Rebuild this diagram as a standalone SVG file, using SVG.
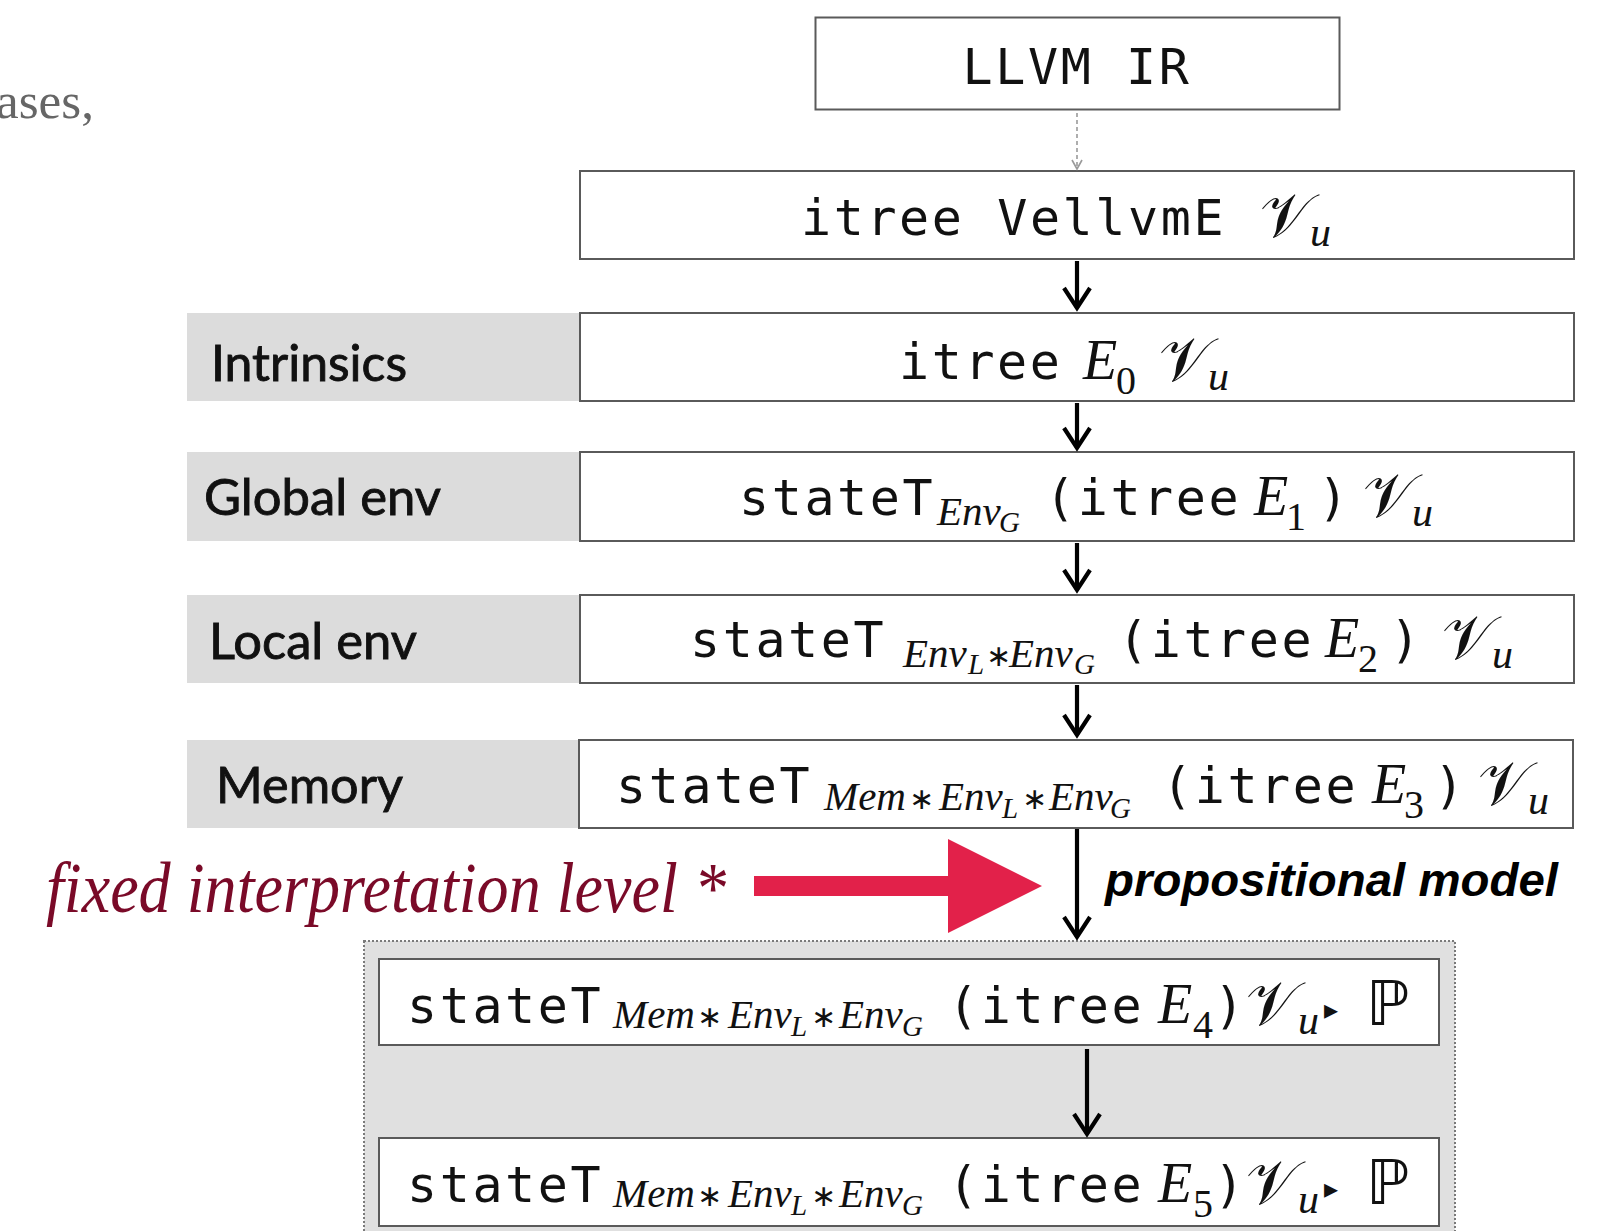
<svg xmlns="http://www.w3.org/2000/svg" width="1615" height="1231" viewBox="0 0 1615 1231">
  <style>
    .box { fill: #ffffff; stroke: #5a5a5a; stroke-width: 2; }
    .band { fill: #dcdcdc; }
    .mono { font-family: "DejaVu Sans Mono", "Liberation Mono", monospace; font-size: 50px; letter-spacing: 2.6px; fill: #111; }
    .lab { font-family: Lato, "Open Sans", sans-serif; font-size: 51px; fill: #111; stroke: #111; stroke-width: 0.9px; }
    .mi { font-family: "Liberation Serif", serif; font-style: italic; font-size: 56px; fill: #111; }
    .sub { font-family: "Liberation Serif", serif; font-style: italic; font-size: 41px; fill: #111; }
    .sub2 { font-family: "Liberation Serif", serif; font-style: italic; font-size: 29px; fill: #111; }
    .num { font-family: "Liberation Serif", serif; font-size: 40px; fill: #111; }
    .op { font-family: "DejaVu Sans", sans-serif; font-size: 30px; fill: #111; }
    .cal { font-family: "DejaVu Serif", "DejaVu Sans", "Noto Sans", serif; font-size: 62px; fill: #111; }
    .u { font-family: "Liberation Serif", serif; font-style: italic; font-size: 42px; fill: #111; }
    .bb { font-family: "DejaVu Sans", sans-serif; font-size: 62px; fill: #111; }
    .tri { font-family: "DejaVu Sans", sans-serif; font-size: 28px; fill: #111; }
    .arr { stroke: #000; stroke-width: 4.2; fill: none; }
  </style>

  <!-- margin text -->
  <text x="-4" y="118" font-family="Liberation Serif, serif" font-size="50" fill="#666" textLength="98" lengthAdjust="spacingAndGlyphs">ases,</text>

  <!-- lowering stages -->
  <g id="llvm-ir">
    <rect class="box" x="815.5" y="17.5" width="524" height="92"/>
    <text class="mono" x="1077" y="84" text-anchor="middle" font-size="52">LLVM IR</text>
  </g>

  <g id="vellvm">
    <rect class="box" x="580" y="171" width="994" height="88"/>
    <text><tspan class="mono" x="801" y="235">itree VellvmE</tspan><tspan class="cal" x="1260" y="237">𝒱</tspan><tspan class="u" x="1310" y="246">u</tspan></text>
  </g>

  <g id="intrinsics">
    <rect class="band" x="187" y="313" width="393" height="88"/>
    <rect class="box" x="580" y="313" width="994" height="88"/>
    <text class="lab" x="211" y="381" textLength="196" lengthAdjust="spacingAndGlyphs">Intrinsics</text>
    <text><tspan class="mono" x="899" y="379">itree</tspan><tspan class="mi" x="1083" y="379">E</tspan><tspan class="num" x="1116" y="394">0</tspan><tspan class="cal" x="1159" y="381">𝒱</tspan><tspan class="u" x="1208" y="390">u</tspan></text>
  </g>

  <g id="global-env">
    <rect class="band" x="187" y="452" width="393" height="89"/>
    <rect class="box" x="580" y="452" width="994" height="89"/>
    <text class="lab" x="204" y="515" textLength="237" lengthAdjust="spacingAndGlyphs">Global env</text>
    <text><tspan class="mono" x="739" y="515">stateT</tspan><tspan class="sub" x="937" y="525">Env</tspan><tspan class="sub2" x="999" y="532">G</tspan><tspan class="mono" x="1045" y="515">(itree</tspan><tspan class="mi" x="1254" y="515">E</tspan><tspan class="num" x="1286" y="530">1</tspan><tspan class="mono" x="1318" y="515">)</tspan><tspan class="cal" x="1363" y="517">𝒱</tspan><tspan class="u" x="1412" y="526">u</tspan></text>
  </g>

  <g id="local-env">
    <rect class="band" x="187" y="595" width="393" height="88"/>
    <rect class="box" x="580" y="595" width="994" height="88"/>
    <text class="lab" x="209" y="659" textLength="208" lengthAdjust="spacingAndGlyphs">Local env</text>
    <text><tspan class="mono" x="690" y="657">stateT</tspan><tspan class="sub" x="903" y="667">Env</tspan><tspan class="sub2" x="968" y="674">L</tspan><tspan class="op" x="986" y="666">∗</tspan><tspan class="sub" x="1009" y="667">Env</tspan><tspan class="sub2" x="1074" y="674">G</tspan><tspan class="mono" x="1118" y="657">(itree</tspan><tspan class="mi" x="1325" y="657">E</tspan><tspan class="num" x="1358" y="672">2</tspan><tspan class="mono" x="1390" y="657">)</tspan><tspan class="cal" x="1442" y="659">𝒱</tspan><tspan class="u" x="1492" y="668">u</tspan></text>
  </g>

  <g id="memory">
    <rect class="band" x="187" y="740" width="393" height="88"/>
    <rect class="box" x="579" y="740" width="994" height="88"/>
    <text class="lab" x="216" y="803" textLength="187" lengthAdjust="spacingAndGlyphs">Memory</text>
    <text><tspan class="mono" x="616" y="803">stateT</tspan><tspan class="sub" x="824" y="810">Mem</tspan><tspan class="op" x="909" y="809">∗</tspan><tspan class="sub" x="939" y="810">Env</tspan><tspan class="sub2" x="1002" y="818">L</tspan><tspan class="op" x="1022" y="809">∗</tspan><tspan class="sub" x="1049" y="810">Env</tspan><tspan class="sub2" x="1110" y="818">G</tspan><tspan class="mono" x="1162" y="803">(itree</tspan><tspan class="mi" x="1372" y="803">E</tspan><tspan class="num" x="1404" y="818">3</tspan><tspan class="mono" x="1434" y="803">)</tspan><tspan class="cal" x="1478" y="805">𝒱</tspan><tspan class="u" x="1528" y="814">u</tspan></text>
  </g>

  <!-- fixed interpretation annotation -->
  <g id="fixed-level">
    <text x="46" y="912" font-family="Liberation Serif, serif" font-style="italic" font-size="72" fill="#7a0a28" textLength="680" lengthAdjust="spacingAndGlyphs">fixed interpretation level *</text>
    <polygon points="754,876 948,876 948,839 1042,886 948,933 948,896 754,896" fill="#e2214a"/>
  </g>

  <!-- propositional model group -->
  <g id="prop-model">
    <rect x="364" y="941" width="1091" height="300" fill="#e0e0e0" stroke="#7a7a7a" stroke-width="2" stroke-dasharray="2 2"/>
  </g>

  <g id="e4">
    <rect class="box" x="379" y="959" width="1060" height="86"/>
    <text><tspan class="mono" x="407" y="1023">stateT</tspan><tspan class="sub" x="613" y="1028">Mem</tspan><tspan class="op" x="697" y="1027">∗</tspan><tspan class="sub" x="728" y="1028">Env</tspan><tspan class="sub2" x="791" y="1036">L</tspan><tspan class="op" x="811" y="1027">∗</tspan><tspan class="sub" x="839" y="1028">Env</tspan><tspan class="sub2" x="902" y="1036">G</tspan><tspan class="mono" x="948" y="1023">(itree</tspan><tspan class="mi" x="1158" y="1023">E</tspan><tspan class="num" x="1193" y="1038">4</tspan><tspan class="mono" x="1214" y="1023">)</tspan><tspan class="cal" x="1246" y="1025">𝒱</tspan><tspan class="u" x="1298" y="1034">u</tspan><tspan class="tri" x="1324" y="1019">▸</tspan><tspan class="bb" x="1366" y="1025">ℙ</tspan></text>
  </g>

  <g id="e5">
    <rect class="box" x="379" y="1138" width="1060" height="88"/>
    <text><tspan class="mono" x="407" y="1202">stateT</tspan><tspan class="sub" x="613" y="1207">Mem</tspan><tspan class="op" x="697" y="1206">∗</tspan><tspan class="sub" x="728" y="1207">Env</tspan><tspan class="sub2" x="791" y="1215">L</tspan><tspan class="op" x="811" y="1206">∗</tspan><tspan class="sub" x="839" y="1207">Env</tspan><tspan class="sub2" x="902" y="1215">G</tspan><tspan class="mono" x="948" y="1202">(itree</tspan><tspan class="mi" x="1158" y="1202">E</tspan><tspan class="num" x="1193" y="1217">5</tspan><tspan class="mono" x="1214" y="1202">)</tspan><tspan class="cal" x="1246" y="1204">𝒱</tspan><tspan class="u" x="1298" y="1213">u</tspan><tspan class="tri" x="1324" y="1198">▸</tspan><tspan class="bb" x="1366" y="1204">ℙ</tspan></text>
  </g>

  <!-- connectors -->
  <g id="connectors">
    <line x1="1077" y1="113" x2="1077" y2="169" stroke="#9a9a9a" stroke-width="1.6" stroke-dasharray="4 3"/>
    <polyline points="1072,160 1077,169 1082,160" stroke="#9a9a9a" stroke-width="1.6" fill="none"/>

    <line class="arr" x1="1077" y1="261" x2="1077" y2="308"/>
    <polyline class="arr" points="1064,288 1077,308 1090,288"/>
    <line class="arr" x1="1077" y1="403" x2="1077" y2="448"/>
    <polyline class="arr" points="1064,428 1077,448 1090,428"/>
    <line class="arr" x1="1077" y1="543" x2="1077" y2="590"/>
    <polyline class="arr" points="1064,570 1077,590 1090,570"/>
    <line class="arr" x1="1077" y1="685" x2="1077" y2="735"/>
    <polyline class="arr" points="1064,715 1077,735 1090,715"/>
    <line class="arr" x1="1077" y1="829" x2="1077" y2="937"/>
    <polyline class="arr" points="1064,917 1077,937 1090,917"/>
    <line class="arr" x1="1087" y1="1049" x2="1087" y2="1134"/>
    <polyline class="arr" points="1074,1114 1087,1134 1100,1114"/>

    <text x="1105" y="896" font-family="Liberation Sans, Arial, sans-serif" font-weight="bold" font-style="italic" font-size="46" fill="#000" textLength="453" lengthAdjust="spacingAndGlyphs">propositional model</text>
  </g>
</svg>
